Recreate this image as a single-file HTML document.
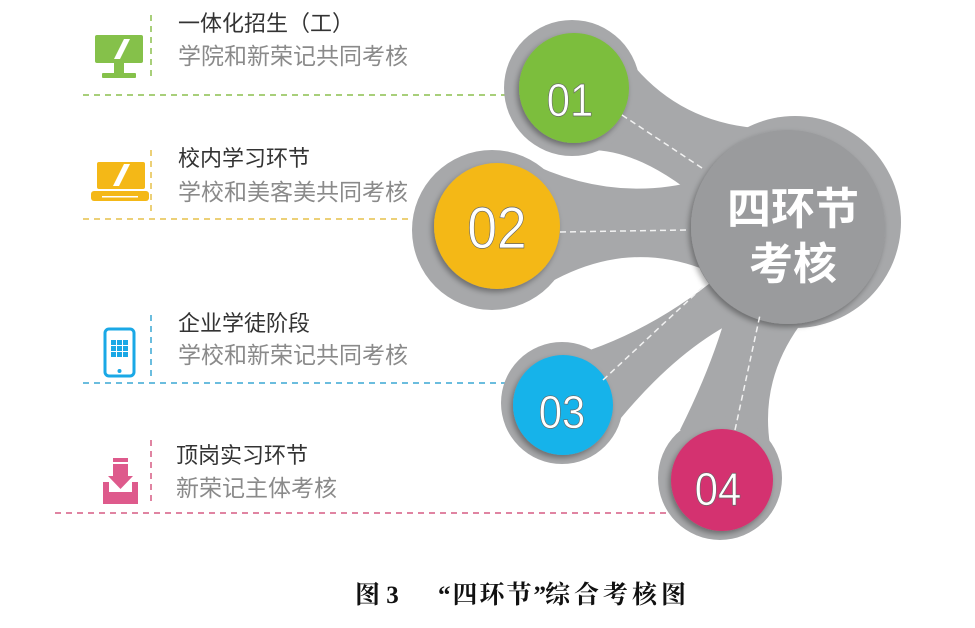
<!DOCTYPE html>
<html><head><meta charset="utf-8"><style>
html,body{margin:0;padding:0;background:#fff;}
body{width:975px;height:628px;overflow:hidden;position:relative;font-family:"Liberation Sans","Noto Sans CJK SC",sans-serif;}
.t{position:absolute;font-size:22px;color:#333;white-space:nowrap;line-height:1;}
.s{position:absolute;font-size:23px;color:#8a8a8a;white-space:nowrap;line-height:1;}
.cap{position:absolute;top:583px;font-family:"Liberation Serif","Noto Serif CJK SC",serif;font-weight:bold;font-size:25px;color:#111;white-space:nowrap;line-height:1;}
</style></head><body>
<svg width="975" height="628" style="position:absolute;left:0;top:0">
<defs>
<filter id="sh" x="-20%" y="-20%" width="140%" height="140%"><feDropShadow dx="-2" dy="3" stdDeviation="3" flood-color="#000" flood-opacity="0.35"/></filter>
</defs>
<g stroke-width="1.5" stroke-dasharray="6,5" fill="none">
<line x1="83" y1="95" x2="515" y2="95" stroke="#8cbf4e"/>
<line x1="151" y1="15" x2="151" y2="78" stroke="#8cbf4e"/>
<line x1="83" y1="219" x2="425" y2="219" stroke="#e6c04a"/>
<line x1="151" y1="150" x2="151" y2="212" stroke="#e6c04a"/>
<line x1="83" y1="383" x2="512" y2="383" stroke="#3aa7d4"/>
<line x1="151" y1="315" x2="151" y2="378" stroke="#3aa7d4"/>
<line x1="55" y1="513" x2="668" y2="513" stroke="#d65b83"/>
<line x1="151" y1="440" x2="151" y2="503" stroke="#d65b83"/>
</g>
<g fill="#a7a8aa" stroke="#a7a8aa" stroke-linecap="round">
<path stroke="none" d="M615,40 Q665,120 755,128 L700,200 Q640,150 590,150 Z"/>
<path stroke="none" d="M520,158 Q610,205 700,180 L700,268 Q610,235 520,302 Z"/>
<path stroke="none" d="M590,350 Q660,325 720,275 L760,310 Q680,340 605,438 Z"/>
<path stroke="none" d="M680,430 Q715,360 730,300 L800,325 Q760,380 770,445 Z"/>
<circle cx="572" cy="88" r="68" stroke="none"/>
<circle cx="492" cy="230" r="80" stroke="none"/>
<circle cx="562" cy="403" r="61" stroke="none"/>
<circle cx="720" cy="478" r="62" stroke="none"/>
<circle cx="795" cy="222" r="106" stroke="none"/>
</g>
<circle cx="788" cy="227" r="97" fill="#9a9b9d" filter="url(#sh)"/>
<circle cx="574" cy="88" r="55" fill="#7cbe3c" filter="url(#sh)"/>
<circle cx="497" cy="226" r="63" fill="#f4b817" filter="url(#sh)"/>
<circle cx="563" cy="405" r="50" fill="#17b3ea" filter="url(#sh)"/>
<circle cx="722" cy="480" r="51" fill="#d4336f" filter="url(#sh)"/>
<g stroke="#f2f2f2" stroke-width="1.5" stroke-dasharray="6,4">
<line x1="622" y1="115" x2="705" y2="170"/>
<line x1="560" y1="232" x2="687" y2="230"/>
<line x1="603" y1="380" x2="705" y2="285"/>
<line x1="735" y1="430" x2="760" y2="315"/>
</g>
<g font-family="Liberation Sans, sans-serif" fill="#fff" stroke="#666" stroke-width="0.6" text-anchor="middle">
<text x="570" y="116" font-size="44" transform="translate(570 116) scale(0.95 1.05) translate(-570 -116)">01</text>
<text x="497" y="248" font-size="56" transform="translate(497 248) scale(0.95 1.05) translate(-497 -248)">02</text>
<text x="562" y="428" font-size="44" transform="translate(562 428) scale(0.95 1.05) translate(-562 -428)">03</text>
<text x="718" y="505" font-size="44" transform="translate(718 505) scale(0.95 1.05) translate(-718 -505)">04</text>
</g>
<g font-family="Liberation Sans, Noto Sans CJK SC, sans-serif" fill="#fff" font-weight="bold" font-size="44" text-anchor="middle">
<text x="793" y="224">四环节</text>
<text x="793" y="279">考核</text>
</g>
<g fill="#85c14a">
<rect x="95" y="35" width="48" height="28" rx="2"/>
<rect x="114" y="63" width="10" height="10"/>
<rect x="102" y="73" width="34" height="5" rx="1"/>
</g>
<polygon points="114,59 124,39 130,39 120,59" fill="#fff"/>
<g fill="#f4b817">
<rect x="97" y="162" width="48" height="27" rx="2"/>
<rect x="91" y="191" width="58" height="10" rx="3"/>
</g>
<polygon points="113,186 124,164 130,164 119,186" fill="#fff"/>
<rect x="102" y="196" width="36" height="1.5" fill="#fff"/>
<rect x="105" y="329" width="29" height="47" rx="4" fill="none" stroke="#1aa8e6" stroke-width="3"/>
<g fill="#1aa8e6">
<rect x="111" y="340" width="5" height="5"/><rect x="117" y="340" width="5" height="5"/><rect x="123" y="340" width="5" height="5"/>
<rect x="111" y="346" width="5" height="5"/><rect x="117" y="346" width="5" height="5"/><rect x="123" y="346" width="5" height="5"/>
<rect x="111" y="352" width="5" height="5"/><rect x="117" y="352" width="5" height="5"/><rect x="123" y="352" width="5" height="5"/>
<circle cx="119.5" cy="371" r="2"/>
</g>
<g fill="#de5a8c">
<rect x="113" y="458" width="15" height="4"/>
<rect x="113" y="464" width="15" height="12"/>
<polygon points="108,476 133,476 120.5,489"/>
<path d="M103 482 h6 v10 h23 v-10 h6 v22 h-35z"/>
</g>
</svg>
<div class="t" style="left:178px;top:13px">一体化招生（工）</div>
<div class="s" style="left:178px;top:45px">学院和新荣记共同考核</div>
<div class="t" style="left:178px;top:148px">校内学习环节</div>
<div class="s" style="left:178px;top:181px">学校和美客美共同考核</div>
<div class="t" style="left:178px;top:313px">企业学徒阶段</div>
<div class="s" style="left:178px;top:344px">学校和新荣记共同考核</div>
<div class="t" style="left:176px;top:445px">顶岗实习环节</div>
<div class="s" style="left:176px;top:477px">新荣记主体考核</div>
<div class="cap" style="left:355px">图 3</div>
<div class="cap" style="left:438px;letter-spacing:2px">“四环节”</div>
<div class="cap" style="left:545px;letter-spacing:4px">综合考核图</div>
</body></html>
